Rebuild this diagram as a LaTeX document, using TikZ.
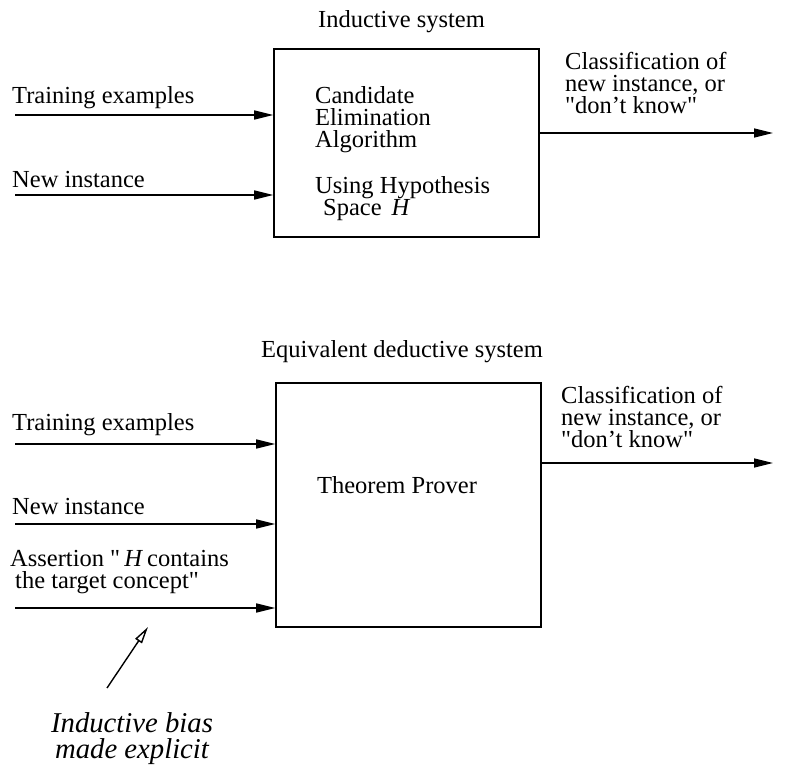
\documentclass[tikz,border=0pt]{standalone}
\usepackage{fontspec}
\setmainfont{Liberation Serif}[Ligatures=TeXOff]
\usetikzlibrary{arrows.meta}
\newcommand{\myst}{\rule{0pt}{18pt}}
\newcommand{\myist}{\rule{0pt}{21pt}}
\begin{document}
\begin{tikzpicture}[x=1pt,y=1pt,
  lbl/.style={inner sep=0pt, anchor=north west, align=left, font=\fontsize{24.5pt}{22pt}\selectfont},
  ttl/.style={inner sep=0pt, anchor=base, font=\fontsize{24.5pt}{22pt}\selectfont},
  sysbox/.style={draw, line width=1.6pt, inner sep=0pt},
  conn/.style={line width=1.6pt, -{Triangle[length=19pt,width=9pt]}},
  biasarrow/.style={line width=1.4pt, -{Triangle[open,length=17pt,width=8pt,line width=1.4pt]}},
]
\useasboundingbox (0,0) rectangle (785,-778);

% ---------- Inductive system ----------
\node[ttl] (indttl) at (401.5,-28) {Inductive system};
\node[sysbox, minimum width=265, minimum height=188] (ind) at (406.5,-143) {};
\node[lbl] (cea) at (315,-85) {\myst Candidate\\Elimination\\Algorithm};
\node[lbl] (uhs) at (315,-175) {\myst Using Hypothesis\\\hspace*{8pt}Space\hspace{10pt}\textit{H}};

\node[lbl] (te1) at (12,-85) {\myst Training examples};
\node[lbl] (ni1) at (12,-169) {\myst New instance};
\coordinate (ti1) at (15,-115);
\coordinate (ti2) at (15,-195);
\draw[conn] (ti1) -- (ti1 -| ind.west);
\draw[conn] (ti2) -- (ti2 -| ind.west);

\node[lbl] (cl1) at (565,-51) {\myst Classification of\\new instance, or\\"don’t know"};
\coordinate (to) at (773,-133);
\draw[conn] (ind.east |- to) -- (to);

% ---------- Equivalent deductive system ----------
\node[ttl] (dedttl) at (402,-357) {Equivalent deductive system};
\node[sysbox, minimum width=265, minimum height=244] (ded) at (408.5,-505) {};
\node[font=\fontsize{24.5pt}{22pt}\selectfont, inner sep=0pt] (tp) at (397,-485) {Theorem Prover};

\node[lbl] (te2) at (12,-412) {\myst Training examples};
\node[lbl] (ni2) at (12,-496) {\myst New instance};
\node[lbl] (as) at (10,-548) {\myst Assertion "\,\textit{H}\,contains\\\hspace*{5pt}the target concept"};
\coordinate (bi1) at (15,-444);
\coordinate (bi2) at (15,-524);
\coordinate (bi3) at (15,-608);
\draw[conn] (bi1) -- (bi1 -| ded.west);
\draw[conn] (bi2) -- (bi2 -| ded.west);
\draw[conn] (bi3) -- (bi3 -| ded.west);

\node[lbl] (cl2) at (561,-385) {\myst Classification of\\new instance, or\\"don’t know"};
\coordinate (bo) at (773,-463);
\draw[conn] (ded.east |- bo) -- (bo);

% ---------- Inductive bias ----------
\node[inner sep=0pt, anchor=north, align=center, font=\fontsize{28.7pt}{26pt}\selectfont\itshape] (bias) at (132,-711) {\myist Inductive bias\\made explicit};
\coordinate (biastail) at (107,-688);
\coordinate (biastip) at (148,-627);
\draw[biasarrow] (biastail) -- (biastip);
\end{tikzpicture}
\end{document}
